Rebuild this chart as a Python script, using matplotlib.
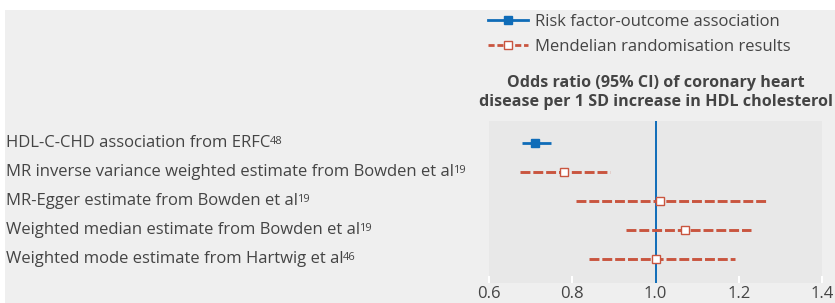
import matplotlib
matplotlib.use("Agg")
import matplotlib.pyplot as plt
import matplotlib.transforms as mtransforms
from matplotlib.patches import Rectangle
from matplotlib.lines import Line2D

labels = [
    "HDL-C-CHD association from ERFC",
    "MR inverse variance weighted estimate from Bowden et al",
    "MR-Egger estimate from Bowden et al",
    "Weighted median estimate from Bowden et al",
    "Weighted mode estimate from Hartwig et al",
]
refs = ["48", "19", "19", "19", "46"]
estimate = [0.71, 0.78, 1.01, 1.07, 1.00]
lower = [0.68, 0.675, 0.81, 0.93, 0.84]
upper = [0.75, 0.89, 1.27, 1.23, 1.19]
kind = ["risk", "mr", "mr", "mr", "mr"]
xticks = [0.6, 0.8, 1.0, 1.2, 1.4]
xticklabels = ["0.6", "0.8", "1.0", "1.2", "1.4"]
legend_labels = ["Risk factor-outcome association", "Mendelian randomisation results"]
title = "Odds ratio (95% CI) of coronary heart\ndisease per 1 SD increase in HDL cholesterol"

BLUE = "#0f6cb8"
RED = "#c9553f"
TXT = "#444444"
FONT = ["Open Sans", "DejaVu Sans"]
plt.rcParams["font.family"] = FONT

W, H = 835, 303
fig = plt.figure(figsize=(W / 100, H / 100), dpi=100)
fig.patch.set_facecolor("white")
fig.patches.append(Rectangle((5 / W, 0), 1, 1 - 10 / H, transform=fig.transFigure,
                             facecolor="#efefef", edgecolor="none", zorder=-10))

ax = fig.add_axes([489 / W, 1 - 283 / H, (822 - 489) / W, (283 - 121) / H])
ax.set_facecolor("#e8e8e8")
for s in ax.spines.values():
    s.set_visible(False)
ax.set_xlim(0.6, 1.4)
ax.set_ylim(4.84, -0.75)
ax.set_yticks([])
ax.set_xticks(xticks)
ax.set_xticklabels(xticklabels, fontsize=12, color=TXT)
ax.tick_params(axis="x", direction="in", length=5, width=1.5, color="white", pad=2)

ax.axvline(1.0, color=BLUE, lw=1.4, zorder=2)

for i, (e, lo, hi, k) in enumerate(zip(estimate, lower, upper, kind)):
    if k == "risk":
        ax.plot([lo, hi], [i, i], color=BLUE, lw=2.0, solid_capstyle="butt", zorder=3)
        ax.plot([e], [i], marker="s", ms=6, color=BLUE, mec=BLUE, zorder=4)
    else:
        ax.plot([lo, hi], [i, i], color=RED, lw=2.1, dashes=(3.4, 1.0), zorder=3)
        ax.plot([e], [i], marker="s", ms=6, mfc="white", mec=RED, mew=1.0, zorder=4)

trans = mtransforms.blended_transform_factory(fig.transFigure, ax.transData)
for i, (lab, r) in enumerate(zip(labels, refs)):
    t = ax.text(6 / W, i, lab, transform=trans, ha="left", va="center",
                fontsize=12, color=TXT, clip_on=False)
    ax.annotate(r, xy=(1, 0.92), xycoords=t, xytext=(-0.5, 0), textcoords="offset points",
                ha="left", va="top", fontsize=8, color=TXT, annotation_clip=False)

fig.text(656 / W, 1 - 92.5 / H, title, ha="center", va="center", fontsize=11.6,
         fontweight="bold", color=TXT, linespacing=1.3)

handles = [
    Line2D([], [], color=BLUE, lw=2.0, marker="s", ms=6, mfc=BLUE, mec=BLUE),
    Line2D([], [], color=RED, lw=2.0, dashes=(2.2, 1.0), marker="s", ms=6,
           mfc="white", mec=RED, mew=1.0),
]
leg = fig.legend(handles, legend_labels, loc="upper left",
                 bbox_to_anchor=(483 / W, 1 - 9 / H), frameon=False, fontsize=12,
                 handlelength=2.4, handletextpad=0.4, labelspacing=0.55,
                 borderaxespad=0, borderpad=0.3)
for t in leg.get_texts():
    t.set_color(TXT)

fig.savefig("out.png", dpi=100, facecolor=fig.get_facecolor())
